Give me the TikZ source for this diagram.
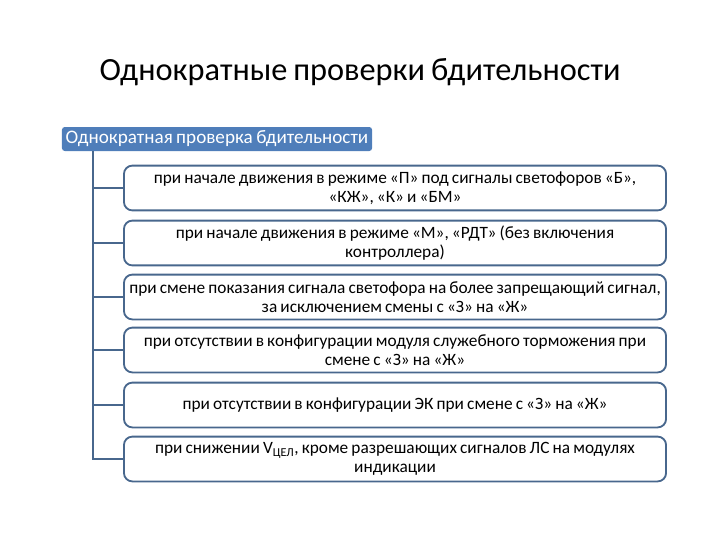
\documentclass[tikz,border=0pt]{standalone}
\usepackage{fontspec}
\setmainfont[WordSpace=0.8]{Carlito}
\usepackage{xcolor}
\usepackage{tikz}
\definecolor{bleutitre}{RGB}{79,126,186}
\definecolor{bleutrait}{RGB}{72,103,141}
\tikzset{
  case/.style={draw=bleutrait, line width=1.3pt, fill=white, rounded corners=6pt,
    minimum width=13.55cm, minimum height=1.12cm, align=center,
    inner sep=1pt, font=\fontsize{12.3}{13.8}\selectfont},
  lien/.style={draw=bleutrait, line width=1.3pt}
}

\begin{document}
\begin{tikzpicture}[x=0.025cm, y=-0.025cm]
% Cadre de la page
\useasboundingbox (0,0) rectangle (720,540);

% Titre
\node[font=\fontsize{23}{27}\selectfont] (titre) at (360,72) {Однократные проверки бдительности};

% En-tête bleu
\node[fill=bleutitre, text=white, rounded corners=2pt, minimum width=7.75cm, minimum height=0.6cm,
  inner sep=1pt, font=\fontsize{13.6}{15}\selectfont] (tete) at (217,139) {Однократная проверка бдительности};
\coordinate (tronc) at (93,151);

% Cas de contrôle
\node[case] (c1) at (395,188) {при начале движения в режиме «П» под сигналы светофоров «Б»,\\«КЖ», «К» и «БМ»};
\node[case] (c2) at (395,243) {при начале движения в режиме «М», «РДТ» (без включения\\контроллера)};
\node[case] (c3) at (395,297) {при смене показания сигнала светофора на более запрещающий сигнал,\\за исключением смены с «З» на «Ж»};
\node[case] (c4) at (395,350) {при отсутствии в конфигурации модуля служебного торможения при\\смене с «З» на «Ж»};
\node[case] (c5) at (395,405) {при отсутствии в конфигурации ЭК при смене с «З» на «Ж»};
\node[case] (c6) at (395,459) {при снижении V\textsubscript{ЦЕЛ}, кроме разрешающих сигналов ЛС на модулях\\индикации};

% Arborescence
\draw[lien] (tronc) |- (c6.west);
\draw[lien] (tronc |- c1.west) -- (c1.west);
\draw[lien] (tronc |- c2.west) -- (c2.west);
\draw[lien] (tronc |- c3.west) -- (c3.west);
\draw[lien] (tronc |- c4.west) -- (c4.west);
\draw[lien] (tronc |- c5.west) -- (c5.west);
\end{tikzpicture}
\end{document}
